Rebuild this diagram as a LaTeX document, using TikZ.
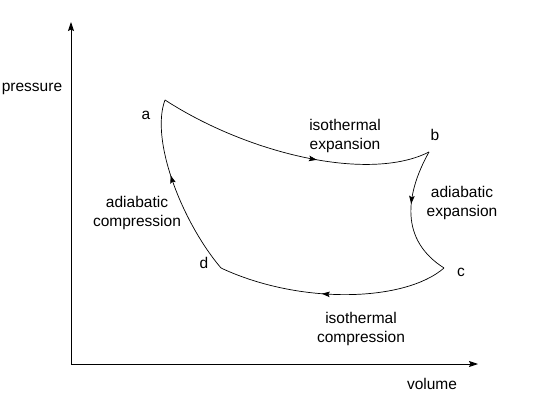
\documentclass[tikz,border=0pt]{standalone}
\usepackage{fontspec}
\setmainfont{Liberation Sans}
\usetikzlibrary{arrows.meta,decorations.markings}
\begin{document}
\begin{tikzpicture}[x=1pt,y=-1pt,
  lbl/.style={font=\fontsize{15.5}{18.5}\selectfont, align=center, inner sep=0pt},
  axis/.style={line width=0.9pt, -{Stealth[length=9pt,width=6pt,inset=1.5pt]}},
  proc/.style={line width=0.7pt},
  midarrow/.style={postaction={decorate}, decoration={markings,
     mark=at position #1 with {\arrow{Stealth[length=8pt,width=5.5pt,inset=1.5pt]}}}}]
\useasboundingbox (0,0) rectangle (533,409);
% axes
\coordinate (O) at (71,364);
\coordinate (ytop) at (71,22);
\coordinate (xend) at (478,364);
\draw[axis] (O) -- (ytop);
\draw[axis] (O) -- (xend);
\node[lbl] (pressure) at (32,89) {pressure};
\node[lbl] (volume) at (432,384) {volume};
% states
\coordinate (a) at (165,100);
\coordinate (b) at (429,152);
\coordinate (c) at (444,268);
\coordinate (d) at (221,268);
\node[lbl] (la) at (146,115) {a};
\node[lbl] (lb) at (435,135) {b};
\node[lbl] (lc) at (461,272) {c};
\node[lbl] (ld) at (204,263) {d};
% processes
\draw[proc, midarrow=0.59] (a) .. controls (250,155) and (370,182) .. (b);
\draw[proc, midarrow=0.42] (b) .. controls (405,195) and (400,240) .. (c);
\draw[proc, midarrow=0.55] (c) .. controls (405,302) and (300,305) .. (d);
\draw[proc, midarrow=0.58] (d) .. controls (182,222) and (150,140) .. (a);
% labels
\node[lbl] (ie) at (345,136) {isothermal\\expansion};
\node[lbl] (ae) at (462,203) {adiabatic\\expansion};
\node[lbl] (ac) at (137,213) {adiabatic\\compression};
\node[lbl] (ic) at (361,329) {isothermal\\compression};
\end{tikzpicture}
\end{document}
